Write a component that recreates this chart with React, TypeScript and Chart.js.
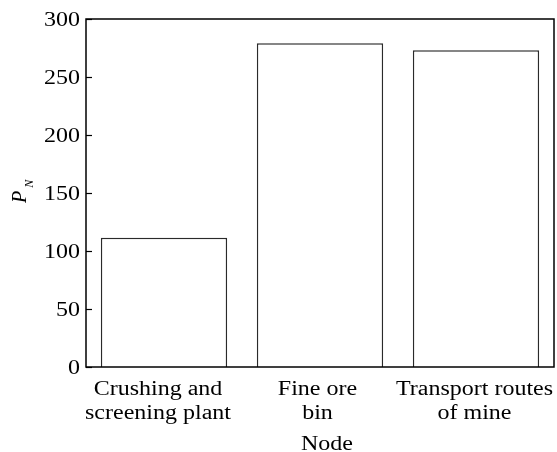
import React, { useEffect, useRef } from "react";
import { Chart, registerables } from "chart.js";

Chart.register(...registerables);

const categories: string[][] = [
  ["Crushing and", "screening plant"],
  ["Fine ore", "bin"],
  ["Transport routes", "of mine"],
];
const values: number[] = [111.5, 279, 273];
const yTicks: number[] = [0, 50, 100, 150, 200, 250, 300];
const xTitle = "Node";
const yTitleMain = "P";
const yTitleSub = "N";

const FONT = "'Liberation Serif', 'Times New Roman', serif";
const STRETCH = 1.2;
const LABEL_SHIFT = [-6, -2.5, -1.5];

function stretchedText(ctx: any, text: string, x: number, y: number, align: string, baseline: string) {
  ctx.save();
  ctx.translate(x, y);
  ctx.scale(STRETCH, 1);
  ctx.textAlign = align;
  ctx.textBaseline = baseline;
  ctx.fillText(text, 0, 0);
  ctx.restore();
}

const framePlugin = {
  id: "framePlugin",
  afterDraw(chart: any) {
    const { ctx, chartArea } = chart;
    const { left, right, top, bottom } = chartArea;
    const y = chart.scales.y;
    const x = chart.scales.x;
    ctx.save();
    ctx.strokeStyle = "#000";
    ctx.lineWidth = 1.5;
    ctx.strokeRect(left, top, right - left, bottom - top);
    ctx.lineWidth = 1.2;
    ctx.fillStyle = "#000";
    ctx.font = `20px ${FONT}`;
    for (const v of yTicks) {
      const py = Math.round(y.getPixelForValue(v)) + 0.5;
      ctx.beginPath();
      ctx.moveTo(left, py);
      ctx.lineTo(left + 6, py);
      ctx.stroke();
      stretchedText(ctx, String(v), left - 6, py + 1.5, "right", "middle");
    }
    categories.forEach((lines, i) => {
      const cx = x.getPixelForValue(i) + (LABEL_SHIFT[i] || 0);
      lines.forEach((line, j) => {
        stretchedText(ctx, line, cx, bottom + 28 + j * 24, "center", "alphabetic");
      });
    });
    stretchedText(ctx, xTitle, (left + right) / 2 + 7, 450, "center", "alphabetic");
    // y title
    ctx.translate(26, 203);
    ctx.rotate(-Math.PI / 2);
    ctx.textAlign = "left";
    ctx.textBaseline = "alphabetic";
    ctx.font = `italic 20px ${FONT}`;
    ctx.fillText(yTitleMain, 0, 0);
    const w = ctx.measureText(yTitleMain).width;
    ctx.font = `italic 12px ${FONT}`;
    ctx.fillText(yTitleSub, w + 3, 7);
    ctx.restore();
  },
};

export default function App() {
  const ref = useRef<HTMLCanvasElement>(null);
  useEffect(() => {
    if (!ref.current) return;
    const chart = new Chart(ref.current, {
      type: "bar",
      data: {
        labels: categories,
        datasets: [
          {
            data: values,
            backgroundColor: "#ffffff",
            borderColor: "#2a2a2a",
            borderWidth: 1.5,
            categoryPercentage: 1,
            barPercentage: 0.81,
          },
        ],
      },
      options: {
        animation: false,
        responsive: true,
        maintainAspectRatio: false,
        layout: { padding: { top: 19, right: 3, left: 0, bottom: 0 } },
        plugins: {
          legend: { display: false },
          tooltip: { enabled: false },
        },
        scales: {
          x: {
            grid: { display: false, drawTicks: false },
            border: { display: false },
            ticks: {
              color: "rgba(0,0,0,0)",
              font: { family: FONT, size: 20, lineHeight: 1.15 },
              padding: 7,
              maxRotation: 0,
              autoSkip: false,
            },
            afterFit(scale: any) {
              scale.height = 85;
            },
          },
          y: {
            min: 0,
            max: 300,
            grid: { display: false, drawTicks: false },
            border: { display: false },
            ticks: {
              stepSize: 50,
              color: "rgba(0,0,0,0)",
              font: { family: FONT, size: 20 },
              padding: 6,
            },
            afterFit(scale: any) {
              scale.width = 86;
            },
          },
        },
      },
      plugins: [framePlugin],
    });
    return () => chart.destroy();
  }, []);
  return (
    <div style={{ position: "absolute", left: 0, top: 0, width: 557, height: 452, background: "#fff" }}>
      <canvas ref={ref} />
    </div>
  );
}
